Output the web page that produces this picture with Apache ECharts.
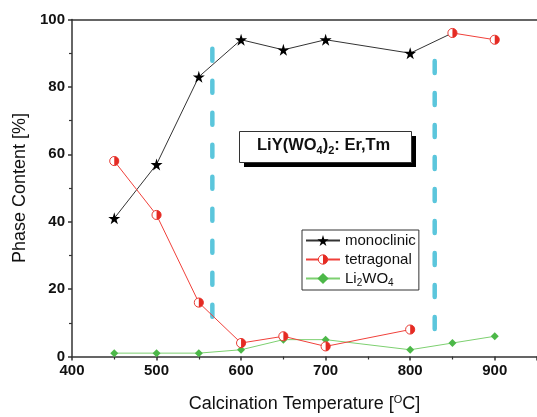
<!DOCTYPE html>
<html>
<head>
<meta charset="utf-8">
<script src="https://cdn.jsdelivr.net/npm/echarts@6/dist/echarts.min.js"></script>
<style>
  html, body { margin: 0; padding: 0; background: #fff; }
  #chart { width: 537px; height: 417px; }
</style>
</head>
<body>
<div id="chart"></div>
<script>
// data
var monoclinicT = [450, 500, 550, 600, 650, 700, 800, 850];
var monoclinic  = [41, 57, 83, 94, 91, 94, 90, 96];
var tetragonalT = [450, 500, 550, 600, 650, 700, 800, 825, 850, 900];
var tetragonal  = [58, 42, 16, 4, 6, 3, 8, '-', 96, 94];
var li2wo4T = [450, 500, 550, 600, 650, 700, 800, 850, 900];
var li2wo4  = [1, 1, 1, 2, 5, 5, 2, 4, 6];
// phase boundaries (dashed), drawn top to bottom
var boundary1 = [[566, 91.3], [566, 10.8]];
var boundary2 = [[829, 87.7], [829, 7.4]];
var xTicks = [400, 500, 600, 700, 800, 900];

var starPath = 'path://M50,0 L61,35 L98,35 L68,57 L79,91 L50,70 L21,91 L32,57 L2,35 L39,35 Z';
var halfSvg = "<svg xmlns='http://www.w3.org/2000/svg' width='24' height='24'>" +
  "<circle cx='12' cy='12' r='10' fill='white' stroke='#e52b23' stroke-width='2'/>" +
  "<path d='M12 2 A10 10 0 0 1 12 22 Z' fill='#e52b23'/></svg>";
var halfCircle = 'image://data:image/svg+xml;charset=utf-8,' + encodeURIComponent(halfSvg);

function pairs(xs, ys) {
  return xs.map(function (x, i) { return [x, ys[i]]; });
}

var monoData = pairs(monoclinicT, monoclinic);
monoData[monoData.length - 1] = { value: monoData[monoData.length - 1], symbol: 'none' };

var myChart = echarts.init(document.getElementById('chart'));
var font = 'Liberation Sans, Arial, sans-serif';

var option = {
  animation: false,
  textStyle: { fontFamily: font },
  grid: { left: 72, right: 0, top: 19.5, bottom: 60.5, outerBoundsMode: 'none', containLabel: false },
  legend: {
    orient: 'vertical',
    left: 302, top: 230,
    backgroundColor: '#fff',
    borderColor: '#333', borderWidth: 1,
    padding: [3, 3, 2, 3],
    itemGap: 4,
    itemWidth: 34, itemHeight: 14,
    data: ['monoclinic', 'tetragonal', 'Li2WO4'],
    formatter: function (name) {
      return name === 'Li2WO4' ? 'Li{sub|2}WO{sub|4}' : name;
    },
    textStyle: {
      fontFamily: font, fontSize: 15, color: '#111', padding: [0, 0, 0, 0],
      rich: { sub: { fontSize: 10, verticalAlign: 'bottom', padding: [9, 0, 0, 0] } }
    }
  },
  xAxis: [{
    type: 'value', min: 400, max: 950, interval: 100,
    name: '{n|Calcination Temperature [}{sup|O}{n|C]}',
    nameLocation: 'middle', nameGap: 38,
    nameTextStyle: {
      rich: {
        n: { fontFamily: font, fontSize: 18, color: '#111' },
        sup: { fontFamily: font, fontSize: 11, color: '#111', verticalAlign: 'top', padding: [0, 0, 9, 0] }
      }
    },
    axisLine: { lineStyle: { color: '#333', width: 1.5 } },
    axisTick: { length: 4, lineStyle: { color: '#333', width: 1.5 } },
    minorTick: { show: true, splitNumber: 2, length: 3, lineStyle: { color: '#333', width: 1.2 } },
    axisLabel: {
      fontFamily: font, fontSize: 15, fontWeight: 'bold', color: '#111', margin: 7,
      formatter: function (v) { return xTicks.indexOf(v) >= 0 ? String(v) : ''; }
    },
    splitLine: { show: false }
  }, {
    type: 'value', min: 400, max: 950, position: 'top',
    axisLine: { show: true, onZero: false, lineStyle: { color: '#333', width: 1.5 } },
    axisTick: { show: false }, axisLabel: { show: false }, splitLine: { show: false }
  }],
  yAxis: [{
    type: 'value', min: 0, max: 100, interval: 20,
    name: 'Phase Content [%]',
    nameLocation: 'middle', nameGap: 43,
    nameTextStyle: { fontFamily: font, fontSize: 18, color: '#111' },
    axisLine: { show: true, lineStyle: { color: '#333', width: 1.5 } },
    axisTick: { show: true, length: 4, lineStyle: { color: '#333', width: 1.5 } },
    minorTick: { show: true, splitNumber: 2, length: 3, lineStyle: { color: '#333', width: 1.2 } },
    axisLabel: { fontFamily: font, fontSize: 15, fontWeight: 'bold', color: '#111', margin: 7 },
    splitLine: { show: false }
  }],
  series: [{
    name: 'boundary1', type: 'line', data: boundary1, symbol: 'none', silent: true,
    lineStyle: { color: '#5bc6dc', width: 4.5, type: [12, 20], cap: 'round' }, z: 1
  }, {
    name: 'boundary2', type: 'line', data: boundary2, symbol: 'none', silent: true,
    lineStyle: { color: '#5bc6dc', width: 4.5, type: [12, 20], cap: 'round' }, z: 1
  }, {
    name: 'monoclinic', type: 'line', data: monoData,
    symbol: starPath, symbolSize: 12,
    itemStyle: { color: '#000' },
    lineStyle: { color: '#333', width: 1 }, z: 3
  }, {
    name: 'tetragonal', type: 'line', data: pairs(tetragonalT, tetragonal),
    connectNulls: false,
    symbol: halfCircle, symbolSize: 11,
    itemStyle: { color: '#e52b23' },
    lineStyle: { color: '#f0403a', width: 1 }, z: 4
  }, {
    name: 'Li2WO4', type: 'line', data: pairs(li2wo4T, li2wo4),
    symbol: 'diamond', symbolSize: 8,
    itemStyle: { color: '#4cb848' },
    lineStyle: { color: '#7dd070', width: 1 }, z: 2
  }],
  graphic: [{
    type: 'rect', left: 244, top: 136, z: 10,
    shape: { width: 172, height: 31 },
    style: { fill: '#000' }
  }, {
    type: 'rect', left: 239, top: 131, z: 11,
    shape: { width: 172, height: 31 },
    style: { fill: '#fff', stroke: '#333', lineWidth: 1 }
  }, {
    type: 'text', left: 257, top: 137, z: 12,
    style: {
      text: '{b|LiY(WO}{s|4}{b|)}{s|2}{b|: Er,Tm}',
      rich: {
        b: { fontFamily: font, fontSize: 16.5, fontWeight: 'bold', fill: '#111' },
        s: { fontFamily: font, fontSize: 11, fontWeight: 'bold', fill: '#111', verticalAlign: 'bottom', padding: [10, 0, 0, 0] }
      }
    }
  }]
};
myChart.setOption(option);
</script>
</body>
</html>
